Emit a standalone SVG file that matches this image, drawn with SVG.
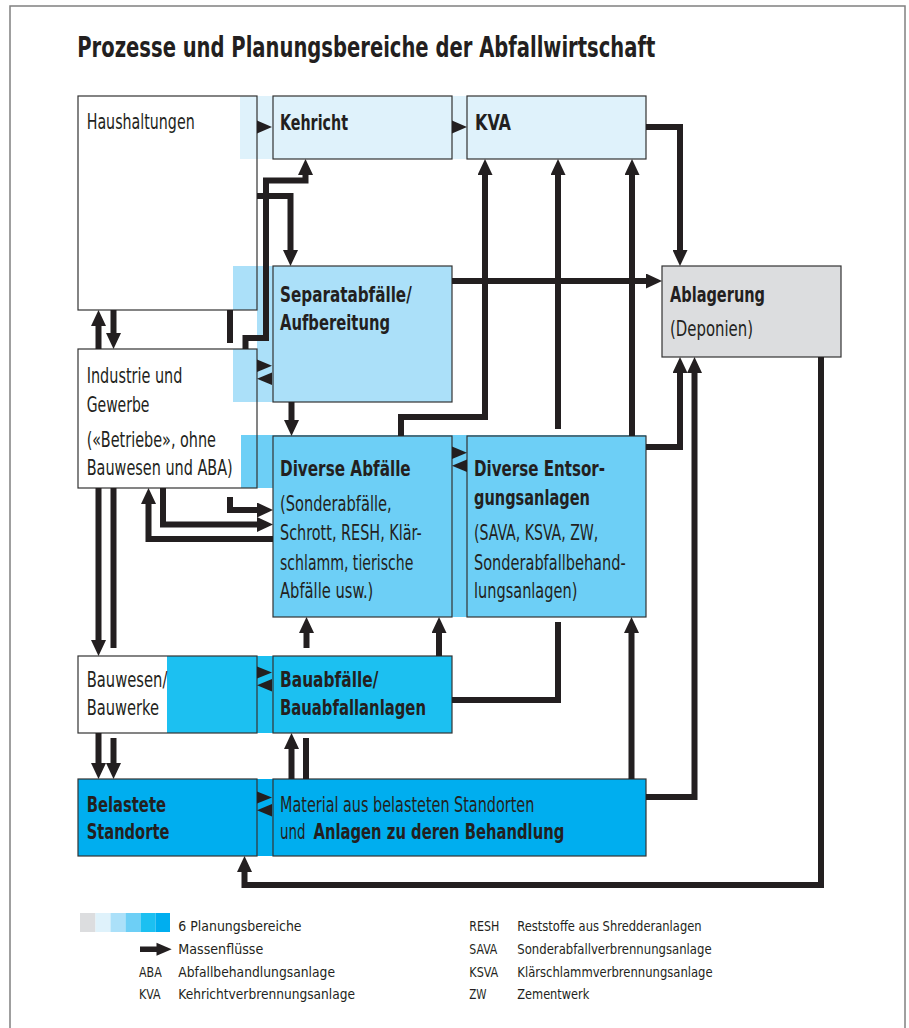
<svg xmlns="http://www.w3.org/2000/svg" width="909" height="1028" viewBox="0 0 909 1028">
<defs>
<style>
.t{font-family:'Liberation Sans Narrow','DejaVu Sans Condensed','Liberation Sans',sans-serif;font-size:21px;fill:#231f20}
.b{font-weight:bold}
.lg{font-size:13.5px}
.ttl{font-size:28px;font-weight:bold}
.box{stroke:#333;stroke-width:1.2}
.ol{fill:none;stroke:#333;stroke-width:1.2}
.flow{fill:none;stroke:#231f20;stroke-width:6;stroke-linejoin:miter;stroke-linecap:butt}
.head{fill:#231f20}
.c1{fill:#dff2fb}.c2{fill:#abe0f9}.c3{fill:#6dcff6}.c4{fill:#1cc0f1}.c5{fill:#00aeef}.c0{fill:#dcdddf}
</style>
<marker id="ah" markerUnits="userSpaceOnUse" viewBox="0 0 16 15" markerWidth="16" markerHeight="15" refX="8" refY="7.5" orient="auto">
<path d="M0,0 L16,7.5 L0,15 z" fill="#231f20"/>
</marker>
</defs>
<rect x="0" y="0" width="909" height="1028" fill="#fff"/>
<rect x="10" y="6" width="895" height="1040" fill="none" stroke="#808080" stroke-width="1.5"/>
<text class="t ttl" x="77.3" y="57.3" textLength="578" lengthAdjust="spacingAndGlyphs">Prozesse und Planungsbereiche der Abfallwirtschaft</text>

<g id="bands">
<rect class="c1" x="240" y="96" width="406" height="63"/>
<rect class="c2" x="257" y="266" width="16" height="136"/>
<rect class="c3" x="241" y="435" width="405" height="53"/>
<rect class="c3" x="452" y="435" width="15" height="182"/>
<rect class="c4" x="167" y="656" width="285" height="77"/>
<rect class="c5" x="257" y="779" width="16" height="77"/>
</g>

<g id="haushaltungen">
<polygon fill="#fff" points="78,96 240,96 240,159 257,159 257,266 233,266 233,310 78,310"/>
<rect class="c2" x="233" y="266" width="24" height="44"/>
<rect class="ol" x="78" y="96" width="179" height="214"/>
<text class="t" x="86.7" y="129.3" textLength="108" lengthAdjust="spacingAndGlyphs">Haushaltungen</text>
</g>
<g id="kehricht">
<rect class="box c1" x="273" y="96" width="179" height="63"/>
<text class="t b" x="280" y="130" textLength="68" lengthAdjust="spacingAndGlyphs">Kehricht</text>
</g>
<g id="kva">
<rect class="box c1" x="467" y="96" width="179" height="63"/>
<text class="t b" x="475" y="130" textLength="36" lengthAdjust="spacingAndGlyphs">KVA</text>
</g>
<g id="separatabfaelle">
<rect class="box c2" x="273" y="266" width="179" height="136"/>
<text class="t b" x="280" y="301.7" textLength="131.7" lengthAdjust="spacingAndGlyphs">Separatabfälle/</text>
<text class="t b" x="280" y="330" textLength="110" lengthAdjust="spacingAndGlyphs">Aufbereitung</text>
</g>
<g id="ablagerung">
<rect class="box c0" x="662" y="266" width="179" height="91"/>
<text class="t b" x="670" y="301.7" textLength="95" lengthAdjust="spacingAndGlyphs">Ablagerung</text>
<text class="t" x="670" y="335.5" textLength="83" lengthAdjust="spacingAndGlyphs">(Deponien)</text>
</g>
<g id="industrie">
<polygon fill="#fff" points="78,349 233,349 233,402 257,402 257,435 241,435 241,488 78,488"/>
<rect class="c2" x="233" y="349" width="24" height="53"/>
<rect class="c3" x="241" y="435" width="16" height="53"/>
<rect class="ol" x="78" y="349" width="179" height="139"/>
<text class="t" x="86.7" y="383.3" textLength="95.7" lengthAdjust="spacingAndGlyphs">Industrie und</text>
<text class="t" x="86.7" y="412.3" textLength="62.7" lengthAdjust="spacingAndGlyphs">Gewerbe</text>
<text class="t" x="86.7" y="447.3" textLength="129.3" lengthAdjust="spacingAndGlyphs">(«Betriebe», ohne</text>
<text class="t" x="86.7" y="475" textLength="146" lengthAdjust="spacingAndGlyphs">Bauwesen und ABA)</text>
</g>
<g id="diverse-abfaelle">
<rect class="box c3" x="273" y="436" width="179" height="181"/>
<text class="t b" x="280" y="476" textLength="130.7" lengthAdjust="spacingAndGlyphs">Diverse Abfälle</text>
<text class="t" x="280" y="510.7" textLength="111.7" lengthAdjust="spacingAndGlyphs">(Sonderabfälle,</text>
<text class="t" x="280" y="540" textLength="141.7" lengthAdjust="spacingAndGlyphs">Schrott, RESH, Klär-</text>
<text class="t" x="280" y="569.5" textLength="133.3" lengthAdjust="spacingAndGlyphs">schlamm, tierische</text>
<text class="t" x="280" y="598.3" textLength="93.3" lengthAdjust="spacingAndGlyphs">Abfälle usw.)</text>
</g>
<g id="diverse-entsorgungsanlagen">
<rect class="box c3" x="467" y="436" width="179" height="181"/>
<text class="t b" x="474" y="476" textLength="131" lengthAdjust="spacingAndGlyphs">Diverse Entsor-</text>
<text class="t b" x="474" y="505" textLength="116" lengthAdjust="spacingAndGlyphs">gungsanlagen</text>
<text class="t" x="474" y="540" textLength="124.3" lengthAdjust="spacingAndGlyphs">(SAVA, KSVA, ZW,</text>
<text class="t" x="474" y="569.5" textLength="151.7" lengthAdjust="spacingAndGlyphs">Sonderabfallbehand-</text>
<text class="t" x="474" y="598" textLength="103.3" lengthAdjust="spacingAndGlyphs">lungsanlagen)</text>
</g>
<g id="bauwesen">
<rect fill="#fff" x="78" y="656" width="89" height="77"/>
<rect class="ol" x="78" y="656" width="179" height="77"/>
<text class="t" x="86.7" y="686.7" textLength="80.7" lengthAdjust="spacingAndGlyphs">Bauwesen/</text>
<text class="t" x="86.7" y="715" textLength="72.3" lengthAdjust="spacingAndGlyphs">Bauwerke</text>
</g>
<g id="bauabfaelle">
<rect class="box c4" x="273" y="656" width="179" height="77"/>
<text class="t b" x="280" y="686.7" textLength="98.3" lengthAdjust="spacingAndGlyphs">Bauabfälle/</text>
<text class="t b" x="280" y="715" textLength="146" lengthAdjust="spacingAndGlyphs">Bauabfallanlagen</text>
</g>
<g id="belastete-standorte">
<rect class="box c5" x="78" y="779" width="179" height="77"/>
<text class="t b" x="86.7" y="811.7" textLength="79.3" lengthAdjust="spacingAndGlyphs">Belastete</text>
<text class="t b" x="86.7" y="839.3" textLength="82.7" lengthAdjust="spacingAndGlyphs">Standorte</text>
</g>
<g id="material">
<rect class="box c5" x="273" y="779" width="373" height="77"/>
<text class="t" x="280" y="811.7" textLength="254.3" lengthAdjust="spacingAndGlyphs">Material aus belasteten Standorten</text>
<text class="t" x="280" y="839.3" textLength="25.5" lengthAdjust="spacingAndGlyphs">und</text>
<text class="t b" x="313.5" y="839.3" textLength="250.8" lengthAdjust="spacingAndGlyphs">Anlagen zu deren Behandlung</text>
</g>

<g id="connectors">
<path class="flow" d="M245.5,349 V338 H266 V180.5 H305.5 V167" marker-end="url(#ah)"/>
<path class="flow" d="M257,196 H290.5 V258" marker-end="url(#ah)"/>
<path class="flow" d="M230,310 V343"/>
<path class="flow" d="M98.5,349 V318" marker-end="url(#ah)"/>
<path class="flow" d="M113.5,310 V341" marker-end="url(#ah)"/>
<path class="flow" d="M291.5,402 V428" marker-end="url(#ah)"/>
<path class="flow" d="M452,281 H654" marker-end="url(#ah)"/>
<path class="flow" d="M401,436 V417 H485 V167" marker-end="url(#ah)"/>
<path class="flow" d="M452,700 H558 V622"/>
<path class="flow" d="M558,429 V167" marker-end="url(#ah)"/>
<path class="flow" d="M632,436 V167" marker-end="url(#ah)"/>
<path class="flow" d="M646,127 H680 V258" marker-end="url(#ah)"/>
<path class="flow" d="M646,447 H680 V365" marker-end="url(#ah)"/>
<path class="flow" d="M646,797 H694.5 V365" marker-end="url(#ah)"/>
<path class="flow" d="M821,357 V885 H244.5 V864" marker-end="url(#ah)"/>
<path class="flow" d="M631.5,779 V625" marker-end="url(#ah)"/>
<path class="flow" d="M306.5,648 V625" marker-end="url(#ah)"/>
<path class="flow" d="M439,656 V625" marker-end="url(#ah)"/>
<path class="flow" d="M291.5,779 V741" marker-end="url(#ah)"/>
<path class="flow" d="M306,738 V779"/>
<path class="flow" d="M230,497 V510 H265" marker-end="url(#ah)"/>
<path class="flow" d="M163,488 V524.5 H265" marker-end="url(#ah)"/>
<path class="flow" d="M273,539 H148.5 V496" marker-end="url(#ah)"/>
<path class="flow" d="M98.5,488 V648" marker-end="url(#ah)"/>
<path class="flow" d="M113.5,488 V648"/>
<path class="flow" d="M98.5,733 V771" marker-end="url(#ah)"/>
<path class="flow" d="M113.5,738 V771" marker-end="url(#ah)"/>
<polygon class="head" points="257,120.5 272,127 257,133.5"/>
<polygon class="head" points="452,120.5 467,127 452,133.5"/>
<polygon class="head" points="257,359.5 272,365.8 257,372"/>
<polygon class="head" points="272,372.5 257,378.8 272,385"/>
<polygon class="head" points="452,446.5 467,452.8 452,459"/>
<polygon class="head" points="467,459.5 452,465.8 467,472"/>
<polygon class="head" points="257,666.5 272,672.5 257,678.5"/>
<polygon class="head" points="272,679 257,685.3 272,691.5"/>
<polygon class="head" points="257,791.5 272,797.5 257,803.5"/>
<polygon class="head" points="272,804 257,810.3 272,816.5"/>
</g>

<g id="legend">
<rect class="c0" x="80" y="913" width="15.5" height="19"/>
<rect class="c1" x="95.5" y="913" width="15" height="19"/>
<rect class="c2" x="110.5" y="913" width="15" height="19"/>
<rect class="c3" x="125.5" y="913" width="15" height="19"/>
<rect class="c4" x="140.5" y="913" width="15" height="19"/>
<rect class="c5" x="155.5" y="913" width="14.5" height="19"/>
<rect x="140" y="946.5" width="18" height="5.5" fill="#231f20"/>
<polygon class="head" points="156.5,942.8 171.7,949.3 156.5,955.8"/>
<text class="t lg" x="178.3" y="931" textLength="123.3" lengthAdjust="spacingAndGlyphs">6 Planungsbereiche</text>
<text class="t lg" x="178.3" y="953.5" textLength="85" lengthAdjust="spacingAndGlyphs">Massenflüsse</text>
<text class="t lg" x="139" y="976.5" textLength="22.7" lengthAdjust="spacingAndGlyphs">ABA</text>
<text class="t lg" x="178.3" y="976.5" textLength="156.7" lengthAdjust="spacingAndGlyphs">Abfallbehandlungsanlage</text>
<text class="t lg" x="139" y="999.3" textLength="21.7" lengthAdjust="spacingAndGlyphs">KVA</text>
<text class="t lg" x="178.3" y="999.3" textLength="176.7" lengthAdjust="spacingAndGlyphs">Kehrichtverbrennungsanlage</text>
<text class="t lg" x="469.3" y="931" textLength="30" lengthAdjust="spacingAndGlyphs">RESH</text>
<text class="t lg" x="517.3" y="931" textLength="184.3" lengthAdjust="spacingAndGlyphs">Reststoffe aus Shredderanlagen</text>
<text class="t lg" x="469.3" y="953.5" textLength="28" lengthAdjust="spacingAndGlyphs">SAVA</text>
<text class="t lg" x="517.3" y="953.5" textLength="194.3" lengthAdjust="spacingAndGlyphs">Sonderabfallverbrennungsanlage</text>
<text class="t lg" x="469.3" y="976.5" textLength="29" lengthAdjust="spacingAndGlyphs">KSVA</text>
<text class="t lg" x="517.3" y="976.5" textLength="195.3" lengthAdjust="spacingAndGlyphs">Klärschlammverbrennungsanlage</text>
<text class="t lg" x="469.3" y="999.3" textLength="17.3" lengthAdjust="spacingAndGlyphs">ZW</text>
<text class="t lg" x="517.3" y="999.3" textLength="72" lengthAdjust="spacingAndGlyphs">Zementwerk</text>
</g>
</svg>
